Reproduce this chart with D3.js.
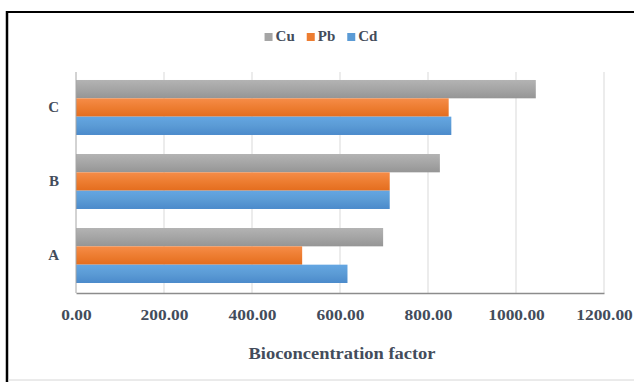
<!DOCTYPE html>
<html>
<head>
<meta charset="utf-8">
<script src="https://cdn.jsdelivr.net/npm/d3@7/dist/d3.min.js"></script>
<style>
  html, body { margin: 0; padding: 0; background: #fff; }
  svg { display: block; }
</style>
</head>
<body>
<svg id="chart" width="634" height="382"></svg>
<script>
// Bioconcentration factor per site and metal
const sites = ["C", "B", "A"];
const metals = ["Cu", "Pb", "Cd"];
const cuValues = [1045, 827, 698];
const pbValues = [847, 713, 514];
const cdValues = [853, 713, 617];
const xTicks = [0, 200, 400, 600, 800, 1000, 1200];
const axisTitle = "Bioconcentration factor";

const seriesValues = { Cu: cuValues, Pb: pbValues, Cd: cdValues };
const colours = {
  Cu: ["#b3b3b3", "#a5a5a5", "#959595"],
  Pb: ["#f68c48", "#ed7d31", "#e46d1e"],
  Cd: ["#64a6e2", "#5b9bd5", "#4b8acb"]
};
const FONT = "'Liberation Serif', 'Times New Roman', serif";
const TEXT_COLOUR = "#434c5b";

const svg = d3.select("#chart");
const plot = { left: 76, right: 604, top: 72, bottom: 293 };

function styleText(sel, size) {
  sel.style("font-family", FONT).style("font-weight", "bold")
    .style("font-size", size + "px").style("fill", TEXT_COLOUR);
}

// outer frame
svg.append("line").attr("x1", 7).attr("x2", 7).attr("y1", 11).attr("y2", 382)
  .attr("stroke", "#000").attr("stroke-width", 2.5);
svg.append("line").attr("x1", 6).attr("x2", 634).attr("y1", 12).attr("y2", 12)
  .attr("stroke", "#000").attr("stroke-width", 1.8);
svg.append("line").attr("x1", 8).attr("x2", 634).attr("y1", 380).attr("y2", 380)
  .attr("stroke", "#d6d6d6").attr("stroke-width", 1);

// gradients for bar fills
const defs = svg.append("defs");
metals.forEach(m => {
  const g = defs.append("linearGradient").attr("id", "grad-" + m)
    .attr("x1", 0).attr("x2", 0).attr("y1", 0).attr("y2", 1);
  g.append("stop").attr("offset", "0%").attr("stop-color", colours[m][0]);
  g.append("stop").attr("offset", "50%").attr("stop-color", colours[m][1]);
  g.append("stop").attr("offset", "100%").attr("stop-color", colours[m][2]);
});

const x = d3.scaleLinear().domain([0, 1200]).range([plot.left, plot.right]);
const y = d3.scaleBand().domain(sites).range([plot.top, plot.bottom])
  .paddingInner(0.257).paddingOuter(0.1216).align(0.444);
const ySub = d3.scaleBand().domain(metals).range([0, y.bandwidth()]);

// vertical gridlines
svg.append("g").selectAll("line").data(xTicks.filter(t => t > 0)).join("line")
  .attr("x1", d => x(d)).attr("x2", d => x(d))
  .attr("y1", plot.top).attr("y2", plot.bottom)
  .attr("stroke", "#d9d9d9").attr("stroke-width", 1);

// bars
const groups = svg.append("g").selectAll("g").data(sites).join("g")
  .attr("transform", d => `translate(0,${y(d)})`);
groups.selectAll("rect")
  .data((s, i) => metals.map(m => ({ metal: m, value: seriesValues[m][i] })))
  .join("rect")
  .attr("x", x(0))
  .attr("y", d => ySub(d.metal))
  .attr("width", d => x(d.value) - x(0))
  .attr("height", ySub.bandwidth())
  .attr("fill", d => `url(#grad-${d.metal})`);

// value axis line on the left of the plot
svg.append("line").attr("x1", plot.left).attr("x2", plot.left)
  .attr("y1", plot.top).attr("y2", plot.bottom)
  .attr("stroke", "#a6a6a6").attr("stroke-width", 1);

const xAxis = svg.append("g").attr("transform", `translate(0,${plot.bottom})`)
  .call(d3.axisBottom(x).tickValues(xTicks).tickFormat(d3.format(".2f")).tickSize(0).tickPadding(16));
xAxis.select(".domain").attr("stroke", "#8c8c8c").attr("stroke-width", 1.6);
xAxis.selectAll("text").call(styleText, 15)
  .each(function () {
    const w = this.getComputedTextLength();
    d3.select(this).attr("textLength", w * 1.16).attr("lengthAdjust", "spacingAndGlyphs");
  });

const yAxis = svg.append("g").attr("transform", `translate(${plot.left},0)`)
  .call(d3.axisLeft(y).tickSize(0).tickPadding(17));
yAxis.select(".domain").remove();
yAxis.selectAll("text").call(styleText, 15);

// axis title
svg.append("text")
  .attr("x", (plot.left + plot.right) / 2 + 2).attr("y", 359)
  .attr("text-anchor", "middle")
  .call(styleText, 16)
  .attr("textLength", 187).attr("lengthAdjust", "spacingAndGlyphs")
  .text(axisTitle);

// legend
const legend = svg.append("g");
let lx = 0;
metals.forEach(m => {
  const item = legend.append("g").attr("transform", `translate(${lx},0)`);
  item.append("rect").attr("x", 0).attr("y", -8).attr("width", 8).attr("height", 8)
    .attr("fill", colours[m][1]);
  const t = item.append("text").attr("x", 11).attr("y", 0).call(styleText, 15).text(m);
  lx += 11 + t.node().getComputedTextLength() + 12;
});
const legendWidth = lx - 12;
legend.attr("transform", `translate(${321 - legendWidth / 2},41)`);
</script>
</body>
</html>
